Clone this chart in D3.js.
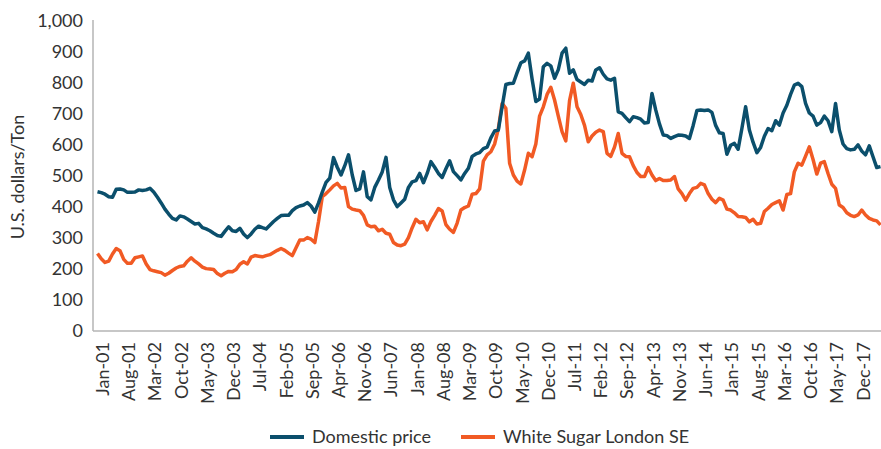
<!DOCTYPE html>
<html>
<head>
<meta charset="utf-8">
<script src="https://cdn.jsdelivr.net/npm/d3@7"></script>
<style>
  body { margin: 0; background: #fff; }
  text { font-family: Lato, "Open Sans", sans-serif; fill: #333; }
</style>
</head>
<body>
<div id="chart"></div>
<script>
var svgWidth = 881;
var svgHeight = 449;

// months Jan-01 .. Jun-18
var monthNames = ["Jan", "Feb", "Mar", "Apr", "May", "Jun", "Jul", "Aug", "Sep", "Oct", "Nov", "Dec"];
var months = [];
for (var y = 2001; y <= 2018; y++) {
  monthNames.forEach(function (m, k) {
    if (y === 2018 && k > 5) return;
    months.push(m + "-" + String(y).slice(2));
  });
}

var tickLabels = ["Jan-01", "Aug-01", "Mar-02", "Oct-02", "May-03", "Dec-03", "Jul-04", "Feb-05",
  "Sep-05", "Apr-06", "Nov-06", "Jun-07", "Jan-08", "Aug-08", "Mar-09", "Oct-09", "May-10",
  "Dec-10", "Jul-11", "Feb-12", "Sep-12", "Apr-13", "Nov-13", "Jun-14", "Jan-15", "Aug-15",
  "Mar-16", "Oct-16", "May-17", "Dec-17"];

var yTicks = [0, 100, 200, 300, 400, 500, 600, 700, 800, 900, 1000];

var domesticPrice = [
  446, 443, 438, 430, 428, 454, 455, 452, 444, 444, 445, 452,
  450, 452, 457, 445, 428, 410, 390, 374, 360, 355, 368, 365,
  358, 350, 342, 344, 330, 326, 320, 312, 305, 302, 318, 333,
  320, 318, 328, 310, 298, 310, 325, 335, 330, 326, 338, 350,
  360, 369, 370, 370, 385, 395, 400, 403, 411, 400, 380, 410,
  445, 476, 490, 556, 525, 500, 530, 565, 500, 450, 455, 510,
  430, 420, 460, 484, 510, 557, 460, 420, 398, 410, 422, 460,
  478, 482, 505, 475, 505, 543, 525, 505, 492, 520, 546, 511,
  498, 484, 505, 522, 560, 568, 572, 585, 590, 620, 642, 645,
  720, 792, 795, 796, 830, 862, 868, 893, 810, 737, 745, 849,
  860, 852, 812, 840, 893, 909, 828, 839, 808, 800, 792, 806,
  803, 839, 846, 825, 810, 806, 812, 704, 699, 685, 672, 688,
  685, 680, 668, 669, 763, 710, 665, 629, 627, 618, 624, 629,
  628, 626, 618, 660, 708, 710, 708, 710, 702, 660, 636, 634,
  567, 596, 602, 583, 650, 720, 645, 605, 572, 589, 625, 650,
  643, 675, 661, 700, 725, 760, 790, 796, 785, 731, 700, 690,
  661, 669, 690, 675, 640, 731, 645, 600, 585, 581, 583, 597,
  577, 565, 594, 559, 524, 527
];

var whiteSugar = [
  247, 230, 218, 222, 245, 263, 256, 228, 215, 215, 233, 236,
  239, 213, 195, 191, 188, 185, 177, 183, 192, 200, 205, 207,
  222, 233, 222, 213, 203, 198, 197, 195, 182, 175, 183, 189,
  188, 195, 212, 220, 213, 235, 240, 238, 236, 240, 243, 250,
  257, 263, 257, 248, 240, 265, 290, 290, 298, 293, 282, 350,
  430, 440, 452, 465, 473, 458, 460, 398, 390, 387, 385, 370,
  339, 333, 335, 320, 325, 312, 309, 282, 274, 272, 277, 298,
  330, 357, 346, 349, 323, 350, 370, 392, 384, 340, 325, 315,
  345, 387, 395, 400, 438, 440, 455, 545, 565, 575, 600, 650,
  731, 715, 538, 500, 480, 471, 516, 570, 559, 600, 690, 720,
  760, 783, 742, 690, 640, 610, 740, 796, 720, 695, 660, 607,
  626, 638, 645, 640, 570, 560, 590, 634, 570, 560, 559, 530,
  508, 495, 495, 524, 500, 482, 489, 482, 482, 484, 495, 455,
  440, 419, 440, 457, 460, 473, 468, 440, 422, 411, 425, 419,
  390, 387, 378, 366, 365, 363, 349, 357, 342, 344, 382, 393,
  405, 411, 417, 387, 437, 440, 510, 538, 532, 561, 591, 550,
  503, 538, 543, 505, 470, 457, 403, 395, 378, 370, 366, 371,
  387, 371, 360, 355, 352, 339
];

var seriesNames = ["Domestic price", "White Sugar London SE"];
var seriesColors = ["#0b4f6c", "#f15a24"];

var svg = d3.select("#chart")
  .append("svg")
  .attr("width", svgWidth)
  .attr("height", svgHeight);

// scales
var xScale = d3.scalePoint()
  .domain(months)
  .range([97.5, 880.5]);

var yScale = d3.scaleLinear()
  .domain([0, 1000])
  .range([330, 20]);

// y axis
var yAxis = svg.append("g")
  .attr("transform", "translate(93, 0)")
  .call(d3.axisLeft(yScale)
    .tickValues(yTicks)
    .tickSize(0)
    .tickPadding(10)
    .tickFormat(d3.format(",")));

yAxis.select(".domain").attr("stroke", "#b5b5b5").attr("stroke-width", 1.5)
  .attr("d", "M0,20V331");
yAxis.selectAll("text").style("font-size", "18px").attr("dy", "0.36em");

// x axis
var xAxis = svg.append("g")
  .attr("transform", "translate(0, 331)")
  .call(d3.axisBottom(xScale)
    .tickValues(tickLabels)
    .tickSize(0));

xAxis.select(".domain").attr("stroke", "#b5b5b5").attr("stroke-width", 1.5)
  .attr("d", "M93,0H881");
xAxis.selectAll("text")
  .style("font-size", "18px")
  .attr("text-anchor", "end")
  .attr("transform", "rotate(-90)")
  .attr("x", -11)
  .attr("y", 0)
  .attr("dy", "0.36em")
  .attr("dx", 0);
// nudge rotated labels to the right of each tick like the original
xAxis.selectAll(".tick").attr("transform", function () {
  var t = d3.select(this).attr("transform");
  var m = /translate\(([-\d.]+),/.exec(t);
  return "translate(" + (+m[1] + 4.5) + ",0)";
});

// y axis title
svg.append("text")
  .attr("transform", "translate(18, 177) rotate(-90)")
  .attr("text-anchor", "middle")
  .attr("dy", "0.36em")
  .style("font-size", "18px")
  .text("U.S. dollars/Ton");

// lines
var line = d3.line()
  .x(function (d, i) { return xScale(months[i]); })
  .y(function (d) { return yScale(d); });

[whiteSugar, domesticPrice].forEach(function (s, k) {
  svg.append("path")
    .datum(s)
    .attr("fill", "none")
    .attr("stroke", k === 0 ? seriesColors[1] : seriesColors[0])
    .attr("stroke-width", 3.5)
    .attr("stroke-linejoin", "round")
    .attr("d", line);
});

// legend
var legendX = [270, 461];
seriesNames.forEach(function (name, k) {
  var g = svg.append("g").attr("transform", "translate(" + legendX[k] + ", 437)");
  g.append("line")
    .attr("x1", 0).attr("x2", 34)
    .attr("stroke", seriesColors[k])
    .attr("stroke-width", 4);
  g.append("text")
    .attr("x", 42)
    .attr("dy", "0.36em")
    .style("font-size", "18px")
    .text(name);
});
</script>
</body>
</html>
